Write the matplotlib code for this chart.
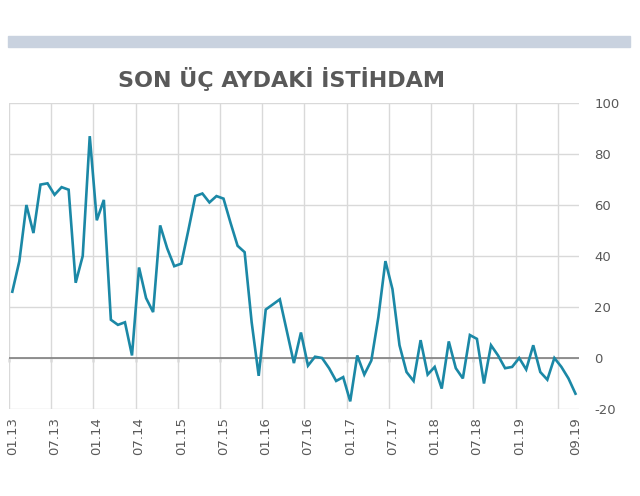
import matplotlib.pyplot as plt
from matplotlib.patches import Rectangle

# monthly categories 01.13 .. 09.19
months = ["%02d.%02d" % (m, y) for y in range(13, 20) for m in range(1, 13)][:81]

employment = [26, 38, 60, 49, 68, 68.5, 64, 67, 66, 29.5, 40, 87, 54, 62,
              15, 13, 14, 1, 35.5, 23.5, 18, 52, 43, 36, 37, 50, 63.5,
              64.5, 61, 63.5, 62.5, 53, 44, 41.5, 14, -7, 19, 21, 23, 10.5,
              -2, 10, -3, 0.5, 0, -4, -9, -7.5, -17, 1, -6.5, -1, 16, 38,
              27, 5, -5.5, -9, 7, -6.5, -3.5, -12, 6.5, -4, -8, 9, 7.5,
              -10, 5, 1, -4, -3.5, 0, -4.5, 5, -5.5, -8.5, 0, -3.5, -8, -14]

label_months = ["01.13", "07.13", "01.14", "07.14", "01.15", "07.15", "01.16",
                "07.16", "01.17", "07.17", "01.18", "07.18", "01.19", "09.19"]
y_ticks = [-20, 0, 20, 40, 60, 80, 100]

W, H = 640, 496
fig = plt.figure(figsize=(W / 100, H / 100), dpi=100)
fig.patch.set_facecolor("white")

# light band at the top
fig.patches.append(Rectangle((8 / W, 1 - 47 / H), 622 / W, 11 / H,
                             transform=fig.transFigure, color="#c9d2df", zorder=0))

fig.text(282 / W, 1 - 79 / H, "SON ÜÇ AYDAKİ İSTİHDAM", ha="center", va="center",
         fontsize=16, fontweight="bold", color="#595959", family="DejaVu Sans")

ax = fig.add_axes([8.8 / W, 1 - 409 / H, (579 - 8.8) / W, (409 - 103) / H])
x = list(range(len(months)))
ax.plot(x, employment, color="#1b88a6", lw=1.9, solid_joinstyle="miter", zorder=3)

ax.set_xlim(-0.5, len(months) - 0.5)
ax.set_ylim(-20, 100)

for s in ax.spines.values():
    s.set_visible(False)

# vertical grid every 6 months, between categories
for i in range(0, len(months), 6):
    ax.axvline(i - 0.5, color="#d9d9d9", lw=1, zorder=1)
for v in y_ticks:
    ax.axhline(v, color="#d9d9d9", lw=1, zorder=1)
ax.axhline(0, color="#7f7f7f", lw=1.2, zorder=2)

# category axis crossing at zero with small tick marks
sec = ax.secondary_xaxis(20 / 120)
sec.set_xticks([i - 0.5 for i in range(0, len(months), 6)])
sec.set_xticklabels([])
sec.tick_params(direction="out", length=3, width=1, color="#7f7f7f")
sec.spines["bottom"].set_visible(False)

ax.set_xticks([months.index(m) for m in label_months])
ax.set_xticklabels(label_months, rotation=90, fontsize=9.5, color="#595959", family="DejaVu Sans")
ax.tick_params(axis="x", length=0, pad=6)

ax.yaxis.tick_right()
ax.set_yticks(y_ticks)
ax.set_yticklabels([str(v) for v in y_ticks], fontsize=9.5, color="#595959", family="DejaVu Sans")
ax.tick_params(axis="y", length=0, pad=11)

fig.savefig("out.png", dpi=100)
